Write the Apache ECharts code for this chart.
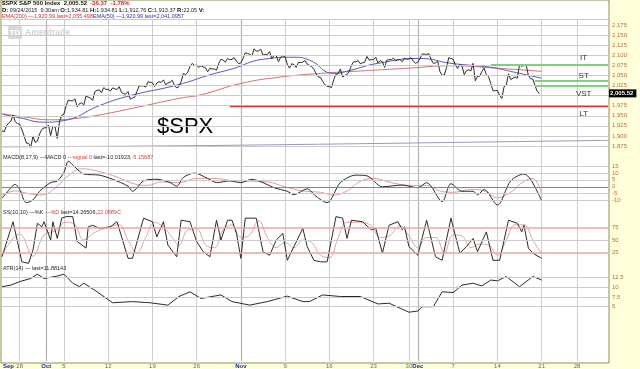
<!DOCTYPE html>
<html><head><meta charset="utf-8">
<script src="https://cdn.jsdelivr.net/npm/echarts@6/dist/echarts.min.js"></script>
<style>html,body{margin:0;padding:0;background:#ffffdc;}#c{width:640px;height:369px;}</style>
</head><body><div id="c"></div>
<script>
// ---------- categories (trading days, 4 slots per day) ----------
const tradingDays = ['09-24','09-25',
 '09-28','09-29','09-30','10-01','10-02',
 '10-05','10-06','10-07','10-08','10-09',
 '10-12','10-13','10-14','10-15','10-16',
 '10-19','10-20','10-21','10-22','10-23',
 '10-26','10-27','10-28','10-29','10-30',
 '11-02','11-03','11-04','11-05','11-06',
 '11-09','11-10','11-11','11-12','11-13',
 '11-16','11-17','11-18','11-19','11-20',
 '11-23','11-24','11-25','11-27',
 '11-30','12-01','12-02','12-03','12-04',
 '12-07','12-08','12-09','12-10','12-11',
 '12-14','12-15','12-16','12-17','12-18',
 '12-21','12-22','12-23','12-24',
 '12-28','12-29','12-30','12-31'];
const tickDays  = ['09-24','09-28','10-01','10-05','10-12','10-19','10-26','11-02','11-09','11-16','11-23','11-30','12-01','12-07','12-14','12-21','12-28'];
const tickTexts = ['Sep','28','Oct','5','12','19','26','Nov','9','16','23','30','Dec','7','14','21','28'];
const weekDays  = ['09-28','10-05','10-12','10-19','10-26','11-09','11-16','11-23','11-30','12-07','12-14','12-21','12-28'];
const monthDays = ['10-01','11-02','12-01'];

// ---------- value-axis ticks ----------
const priceMin = 1875, priceMax = 2175, priceStep = 25;
const macdTicks  = [-10, -5, 5, 10, 15];   // gray lines (0 is red)
const stochTicks = [50];                    // gray line (25/75 are red)
const atrTicks   = [5, 7.5, 10, 12.5];

// ---------- price (4 readings per day) ----------
const price = [
 1913,1910,1925,1932, 1936,1952,1935,1931, 1929,1915,1900,1882, 1882,1872,1899,1884,
 1887,1905,1916,1920, 1920,1927,1901,1924, 1922,1894,1935,1951,
 1954,1975,1989,1987, 1987,1992,1972,1980, 1982,1977,1999,1996, 1994,1988,2010,2013, 2014,2007,2020,2015,
 2016,2011,2019,2017, 2015,2022,2008,2004, 2004,2010,1991,1994, 1996,2010,2024,2024, 2024,2021,2034,2033,
 2032,2022,2031,2034, 2033,2039,2027,2031, 2033,2038,2025,2019, 2022,2035,2055,2052, 2058,2072,2080,2075,
 2075,2070,2074,2071, 2069,2059,2068,2066, 2066,2063,2080,2090, 2088,2083,2092,2089, 2090,2094,2085,2079,
 2081,2092,2106,2104, 2103,2098,2116,2110, 2111,2115,2100,2102, 2102,2109,2091,2100, 2099,2084,2095,2099,
 2096,2078,2068,2079, 2077,2070,2082,2082, 2083,2087,2078,2075, 2072,2065,2055,2046, 2045,2035,2027,2023,
 2022,2020,2040,2053, 2054,2066,2046,2050, 2052,2060,2075,2084, 2084,2087,2079,2081, 2083,2097,2088,2089,
 2089,2095,2081,2087, 2084,2070,2088,2089, 2089,2093,2086,2089, 2089,2084,2093,2090,
 2091,2094,2085,2080, 2083,2092,2103,2103, 2102,2104,2090,2080, 2081,2085,2060,2050, 2051,2070,2094,2092,
 2090,2076,2067,2077, 2073,2052,2062,2064, 2061,2080,2037,2048, 2048,2060,2068,2052, 2047,2030,2012,2012,
 2013,2000,1993,2022, 2026,2054,2040,2043, 2046,2043,2077,2073, 2074,2076,2050,2042, 2041,2025,2010,2005.52
];
const lastPrice = 2005.52;

// moving averages: [slot, value]
const ema200 = [[0,1955],[10,1947],[22,1940],[33,1943],[44,1952],[62,1972],[80,1993],[90,2002],[108,2030],[126,2046],[144,2055],[162,2061],[184,2068],[203,2074],[221,2069],[234,2064],[244,2060]];
const ema50  = [[0,1954],[8,1945],[19,1934],[28,1938],[44,1975],[58,2000],[79,2026],[95,2053],[104,2066],[118,2090],[132,2095],[139,2088],[150,2055],[157,2062],[170,2080],[189,2092],[203,2080],[221,2070],[230,2060],[244,2043]];
const longLine = [[0,1873],[69,1875],[137,1879],[206,1884],[274,1889]];

// support / resistance levels
const levelNames  = ['IT','ST','VST','LT'];
const levelValues = [2077.6, 2038, 2023.8, 1973.5];
const levelStarts = [221, 241, 241, 103];
const levelLabelValues = [2094, 2049, 2005, 1955];
const levelLabelSlot = 263;

// MACD(8,17,9)
const macd = [[0,-8.2],[2,-4.5],[6,1.7],[8,-2],[11,-11.5],[14,-9.5],[17,-3.3],[22,3],[25,4.2],[28,10.4],[30,18.4],[33,14.2],[37,9.2],[44,8.4],[50,5.4],[57,0.4],[59,-3.3],[64,4.2],[70,5.4],[76,3],[79,0.4],[82,6.7],[87,9.9],[93,6],[97,3],[103,4.2],[108,3],[113,5.4],[118,3],[123,-0.7],[129,-3.3],[132,-5.7],[138,-1.5],[142,-7],[147,-11.5],[153,3],[160,8.4],[165,7.9],[172,0],[181,1.2],[188,-0.7],[192,3],[199,-10.7],[203,2.2],[208,-3.3],[213,-3.3],[215,-5.7],[218,-2],[224,-13.2],[230,4.2],[236,9.2],[239,5.4],[244,-10]];
const signal = [[0,-6],[6,-3],[12,-5],[18,-6],[24,-1],[30,8],[36,13],[44,11],[52,7],[60,2],[66,1],[72,3.5],[80,3],[88,6],[96,6],[104,4.5],[112,4],[120,3.5],[128,0],[136,-3],[144,-4],[150,-6],[156,-3],[162,4],[168,6],[176,3],[184,1],[192,1],[198,-3],[204,-4],[212,-2],[218,-3],[224,-8],[230,-4],[236,4],[240,6],[244,-5.2]];

// Stochastic %K / %D
const stochK = [[0,17],[5,86],[9,7],[12,4],[14,30],[16,83],[18,76],[19,86],[22,50],[23,86],[25,53],[27,93],[29,96],[32,96],[34,47],[38,34],[39,76],[41,79],[44,73],[49,76],[52,86],[57,14],[59,14],[64,93],[68,86],[70,56],[73,86],[75,40],[79,17],[81,89],[85,86],[88,47],[91,27],[94,17],[97,89],[99,50],[102,89],[104,89],[106,63],[108,14],[110,93],[115,93],[118,27],[121,20],[124,50],[127,63],[129,10],[132,37],[136,73],[138,37],[141,10],[144,7],[147,7],[151,96],[154,93],[156,53],[158,89],[163,86],[167,70],[169,73],[172,24],[175,79],[179,86],[181,70],[182,76],[184,37],[188,20],[192,89],[196,17],[199,10],[203,93],[207,24],[210,37],[213,53],[215,27],[219,66],[222,10],[225,10],[229,89],[233,83],[235,66],[236,79],[238,34],[240,24],[244,14]];
const stochD = [[0,20],[8,62],[14,18],[19,60],[24,68],[29,85],[33,80],[37,50],[42,65],[48,75],[53,80],[57,50],[61,25],[65,55],[69,85],[73,75],[77,55],[80,40],[84,70],[88,72],[92,40],[96,35],[100,70],[104,80],[108,55],[112,60],[116,88],[120,55],[124,35],[128,45],[132,35],[136,50],[140,45],[144,20],[148,15],[152,55],[156,85],[162,85],[167,78],[171,55],[175,58],[180,78],[184,58],[188,35],[192,55],[196,55],[200,25],[204,60],[208,58],[212,35],[216,42],[220,40],[224,20],[228,50],[232,80],[236,80],[240,50],[244,22]];

// ATR(14)
const atr = [[0,10.1],[4,10.5],[8,11.4],[13,12.2],[16,13.3],[19,12.2],[25,12.8],[28,13.3],[32,11],[35,10.1],[37,11],[43,8.8],[50,6],[59,6.3],[67,6],[75,5.4],[80,7.6],[85,8.8],[90,7.1],[99,8],[104,6.3],[112,5.4],[120,6.3],[129,7.7],[136,6.3],[139,6.3],[145,8],[153,7.6],[162,7.6],[170,5.7],[175,5.9],[184,3.6],[188,3.9],[190,5],[195,5],[199,8.8],[204,8.6],[208,10.5],[213,11],[217,10.3],[221,11.8],[224,11.6],[228,12.7],[234,10.1],[240,12.7],[244,11.8]];

// ---------- build ----------
const cats = [];
const nSlots = tradingDays.length * 4 - 1;
for (let i = 0; i < nSlots; i++) cats.push(tradingDays[Math.floor(i / 4)] + '|' + (i % 4));
const dayOf = c => c.split('|')[0];
const isStart = c => c.endsWith('|0');

const FONT = 'Liberation Sans';
const axisLabelColor = '#b5703c';
const gridColor = '#cbcbcb';
const L = 2, R = 32;

const priceTicks = [];
for (let v = priceMin; v <= priceMax; v += priceStep) priceTicks.push(v);
const hLines = (vals, color) => vals.map(v => ({yAxis:v, lineStyle:{color:color || gridColor, width:1, type:'solid'}}));

const hiddenX = gi => ({type:'category', gridIndex:gi, data:cats, boundaryGap:false, show:false});
const panelY = (gi, min, max, step, fmt) => ({
  type:'value', gridIndex:gi, position:'right', min, max, interval:step,
  axisLine:{show:false}, axisTick:{show:false}, splitLine:{show:false},
  axisLabel:{color:axisLabelColor, fontSize:6, fontFamily:FONT, margin:4, formatter:fmt}
});

const levelLines = levelValues.map((v, i) => [
  {coord:[levelStarts[i], v], lineStyle:{color: i === 3 ? '#d43c3c' : '#7fd17f', width: i === 3 ? 1.3 : 2, type:'solid'}},
  {coord:[nSlots - 1, v]}
]);

const txt = (left, top, text, rich, extra) => ({type:'text', left, top, silent:true, z:10,
  style:Object.assign({text, rich, fontSize:5.5, fontFamily:FONT, fill:'#222', verticalAlign:'top', align:'left'}, extra || {})});
const rs = (color, bold) => ({fontSize: bold ? 6 : 5.5, fontWeight: bold ? 'bold' : 'normal', fill:color, color, fontFamily:FONT, lineHeight:6});

const option = {
  animation:false,
  textStyle:{fontFamily:FONT},
  graphic:[
    {type:'line', shape:{x1:2, y1:19.5, x2:608, y2:19.5}, style:{stroke:'#c9c9c9', lineWidth:1}, silent:true, z:1},
    {type:'rect', shape:{x:8, y:26, width:14, height:13, r:1}, style:{fill:'#d9d9d9'}, silent:true, z:1},
    {type:'text', left:9.5, top:28.5, style:{text:'TD', fill:'#fff', fontSize:8, fontWeight:'bold', fontFamily:FONT}, silent:true, z:2},
    {type:'text', left:25, top:28, style:{text:'Ameritrade', fill:'#d2d2d2', fontSize:8.5, fontWeight:'bold', fontFamily:FONT}, silent:true, z:1},
    {type:'text', left:157, top:116, style:{text:'$SPX', fill:'#000', fontSize:22, fontFamily:FONT}, silent:true, z:5},
    txt(2, 0.5, '{b|$SPX S&P 500 Index  2,005.52}  {r|-36.37  -1.78%}', {b:rs('#111', true), r:rs('#e02020', true)}),
    txt(2, 7.8, '{b|D:} 09/24/2015  9:30am {b|O:}1,934.81 {b|H:}1,934.81 {b|L:}1,912.76 {b|C:}1,913.37 {b|R:}22.05 {b|V:}', {b:rs('#111', true), n:rs('#222')}),
    txt(2, 13.2, '{r|EMA(200) \u20141,920.99 last=2,055.498}{u|EMA(50) \u20141,920.99 last=2,041.0957}', {r:rs('#cc3030'), u:rs('#3030a8')}),
    txt(3, 154.5, '{k|MACD(8,17,9) \u2014MACD 0 }{r|\u2014signal 0 }{k|last=-10.01923,}{r|-5.15687}', {k:rs('#222'), r:rs('#d04040')}),
    txt(3, 209, '{k|SS(10,10) \u2014%K }{r|\u2014%D }{k|last=14.26506,}{r|22.0889C}', {k:rs('#222'), r:rs('#d04040')}),
    txt(3, 265.5, '{k|ATR(14) \u2014 last=11.88143}', {k:rs('#222')})
  ],
  grid:[
    {left:1, right:31, top:0, bottom:6, show:true, backgroundColor:'#ffffff', borderColor:'#8e8e5c', borderWidth:1},
    {left:L, right:R, top:19, bottom:6},
    {left:L, right:R, top:25, height:121},
    {left:L, right:R, top:166, height:34.6},
    {left:L, right:R, top:227.3, height:25.4},
    {left:L, right:R, top:277.3, height:29.4}
  ],
  xAxis:[
    {type:'value', gridIndex:0, show:false},
    {type:'category', gridIndex:1, data:cats, boundaryGap:false, position:'bottom',
     axisLine:{show:false}, axisTick:{show:false},
     axisLabel:{show:true, margin:2, fontSize:6, fontFamily:FONT, hideOverlap:false,
       interval:(i, v) => isStart(v) && tickDays.includes(dayOf(v)),
       formatter:(v, i) => {
         const k = tickDays.indexOf(dayOf(v));
         if (k < 0 || !isStart(v)) return '';
         const t = tickTexts[k];
         if (i === 0) return '{f|' + t + '}';
         return /[A-Za-z]/.test(t) ? '{m|' + t + '}' : '{n|' + t + '}';
       },
       rich:{
         m:{color:'#1c2a8e', fontWeight:'bold', fontSize:6, fontFamily:FONT},
         f:{color:'#1c2a8e', fontWeight:'bold', fontSize:6, fontFamily:FONT, padding:[0,0,0,13]},
         n:{color:'#6d6a48', fontSize:6, fontFamily:FONT}
       }},
     splitLine:{show:true, interval:(i, v) => isStart(v) && weekDays.includes(dayOf(v)), lineStyle:{color:'#cdcdcd', width:1}}},
    {type:'category', gridIndex:1, data:cats, boundaryGap:false, position:'top',
     axisLine:{show:false}, axisTick:{show:false}, axisLabel:{show:false},
     splitLine:{show:true, interval:(i, v) => isStart(v) && monthDays.includes(dayOf(v)), lineStyle:{color:'#b4b4b4', width:1.2}}},
    hiddenX(2), hiddenX(3), hiddenX(4), hiddenX(5)
  ],
  yAxis:[
    {type:'value', gridIndex:0, show:false},
    {type:'value', gridIndex:1, show:false},
    panelY(2, priceMin, priceMax, priceStep, v => v === 2000 ? '' : v.toLocaleString('en-US')),
    panelY(3, -10, 15, 5),
    panelY(4, 25, 75, 25),
    panelY(5, 5, 12.5, 2.5)
  ],
  series:[
    {name:'grid-price', type:'line', xAxisIndex:3, yAxisIndex:2, data:[], silent:true, z:1,
     markLine:{symbol:'none', silent:true, label:{show:false}, data:hLines(priceTicks)}},
    {name:'long', type:'line', xAxisIndex:3, yAxisIndex:2, data:longLine, smooth:true, showSymbol:false, clip:false,
     lineStyle:{color:'#9898bc', width:1}, z:2},
    {name:'EMA200', type:'line', xAxisIndex:3, yAxisIndex:2, data:ema200, smooth:true, showSymbol:false, clip:false,
     lineStyle:{color:'#d27272', width:1}, z:3},
    {name:'EMA50', type:'line', xAxisIndex:3, yAxisIndex:2, data:ema50, smooth:true, showSymbol:false, clip:false,
     lineStyle:{color:'#5a5ab4', width:1}, z:3},
    {name:'SPX', type:'line', xAxisIndex:3, yAxisIndex:2, data:price, showSymbol:false, clip:false,
     lineStyle:{color:'#2a2a2a', width:1}, z:4,
     markLine:{symbol:'none', silent:true, animation:false,
       label:{show:false},
       data: levelLines.concat([{yAxis:lastPrice, lineStyle:{color:'rgba(0,0,0,0)', width:0},
         label:{show:true, position:'end', distance:1, formatter:'2,005.52', color:'#ffffff', backgroundColor:'#000000',
                fontSize:6, fontWeight:'bold', fontFamily:FONT, padding:[1,3,1,1]}}])}},
    {name:'levels', type:'scatter', xAxisIndex:3, yAxisIndex:2, symbolSize:0, silent:true, z:10,
     data: levelNames.map((n, i) => ({value:[levelLabelSlot, levelLabelValues[i]], name:n})),
     label:{show:true, position:'inside', formatter:p => p.name, color:'#333333', fontSize:8, fontFamily:FONT, opacity:1}},
    {name:'signal', type:'line', xAxisIndex:4, yAxisIndex:3, data:signal, smooth:0.4, showSymbol:false, clip:false,
     lineStyle:{color:'#e39a9a', width:1}, z:3,
     markLine:{symbol:'none', silent:true, label:{show:false},
       data: hLines(macdTicks).concat([{yAxis:0, lineStyle:{color:'#cf6a6a', width:1, type:'solid'}}])}},
    {name:'MACD', type:'line', xAxisIndex:4, yAxisIndex:3, data:macd, smooth:0.3, showSymbol:false, clip:false,
     lineStyle:{color:'#2a2a2a', width:1}, z:4},
    {name:'%D', type:'line', xAxisIndex:5, yAxisIndex:4, data:stochD, smooth:0.4, showSymbol:false, clip:false,
     lineStyle:{color:'#e6a2a2', width:1}, z:3,
     markLine:{symbol:'none', silent:true, label:{show:false},
       data: hLines(stochTicks).concat(hLines([25, 75], '#eaa4a4').map(d => Object.assign(d, {lineStyle:{color:'#eaa4a4', width:1.5, type:'solid'}})))}},
    {name:'%K', type:'line', xAxisIndex:5, yAxisIndex:4, data:stochK, showSymbol:false, clip:false,
     lineStyle:{color:'#2a2a2a', width:1}, z:4},
    {name:'ATR', type:'line', xAxisIndex:6, yAxisIndex:5, data:atr, showSymbol:false, clip:false,
     lineStyle:{color:'#2a2a2a', width:1}, z:4,
     markLine:{symbol:'none', silent:true, label:{show:false}, data:hLines(atrTicks)}}
  ]
};
const chart = echarts.init(document.getElementById('c'), null, {renderer:'canvas', width:640, height:369});
chart.setOption(option);
</script>
</body></html>
